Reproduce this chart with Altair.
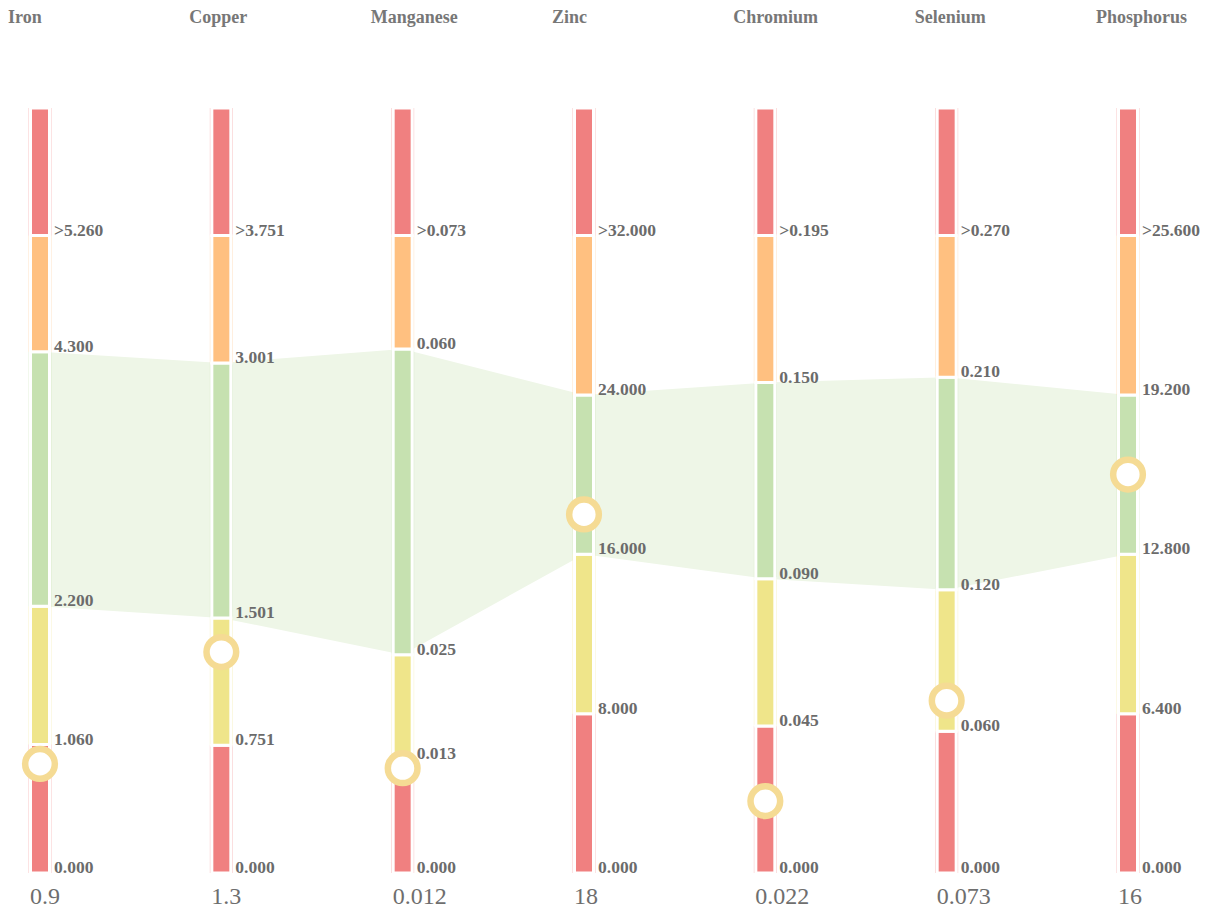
import altair as alt
import pandas as pd

# ---- data ----
elements = ["Iron", "Copper", "Manganese", "Zinc", "Chromium", "Selenium", "Phosphorus"]
t1 = [1.060, 0.751, 0.013, 8.0, 0.045, 0.060, 6.4]
t2 = [2.200, 1.501, 0.025, 16.0, 0.090, 0.120, 12.8]
t3 = [4.300, 3.001, 0.060, 24.0, 0.150, 0.210, 19.2]
t4 = [5.260, 3.751, 0.073, 32.0, 0.195, 0.270, 25.6]
values = [0.9, 1.3, 0.012, 18, 0.022, 0.073, 16]
value_labels = ["0.9", "1.3", "0.012", "18", "0.022", "0.073", "16"]
band_colors = ["#f08080", "#efe58a", "#c6e1b0", "#ffc080", "#f08080"]
headroom = 1.2

# ---- build tables ----
seg_rows, lab_rows, band_rows, pt_rows, col_rows = [], [], [], [], []
for i, el in enumerate(elements):
    top = t4[i] * headroom
    edges = [0.0, t1[i], t2[i], t3[i], t4[i], top]
    for k in range(5):
        seg_rows.append(dict(idx=i, lo=edges[k] / top, hi=edges[k + 1] / top, color=band_colors[k]))
    for k in range(5):
        txt = f"{edges[k]:.3f}"
        if k == 4:
            txt = ">" + txt
        lab_rows.append(dict(idx=i, frac=edges[k] / top, text=txt))
    band_rows.append(dict(idx=i, lo=t2[i] / top, hi=t3[i] / top))
    pt_rows.append(dict(idx=i, frac=values[i] / top))
    col_rows.append(dict(idx=i, element=el, vlabel=value_labels[i]))

seg = pd.DataFrame(seg_rows)
labs = pd.DataFrame(lab_rows)
band = pd.DataFrame(band_rows)
pts = pd.DataFrame(pt_rows)
cols = pd.DataFrame(col_rows)

X = alt.Scale(domain=[0, 6], range=[32, 1120], padding=0, nice=False, zero=False)
Y = alt.Scale(domain=[0, 1], range=[865, 100], padding=0, nice=False)
FONT = "Liberation Serif, Times New Roman, serif"

band_layer = alt.Chart(band).mark_area(color="#eef6e7", opacity=1).encode(
    x=alt.X("idx:Q", scale=X, axis=None),
    y=alt.Y("lo:Q", scale=Y, axis=None),
    y2="hi:Q",
)

outer = alt.Chart(seg).mark_bar(size=23, orient="vertical", opacity=0.45).encode(
    x=alt.X("idx:Q", scale=X, axis=None),
    y=alt.Y("lo:Q", scale=Y, axis=None),
    y2="hi:Q",
    color=alt.Color("color:N", scale=None),
)

inner = alt.Chart(seg).mark_bar(size=19, orient="vertical", stroke="white", strokeWidth=3).encode(
    x=alt.X("idx:Q", scale=X, axis=None),
    y=alt.Y("lo:Q", scale=Y, axis=None),
    y2="hi:Q",
    color=alt.Color("color:N", scale=None),
)

thr_text = alt.Chart(labs).mark_text(
    align="left", baseline="alphabetic", dx=14, dy=0,
    font=FONT, fontSize=17.5, fontWeight="bold", color="#6b6b6b",
).encode(
    x=alt.X("idx:Q", scale=X, axis=None),
    y=alt.Y("frac:Q", scale=Y, axis=None),
    text="text:N",
)

circles = alt.Chart(pts).mark_point(
    shape="circle", size=880, filled=False, fill="white", fillOpacity=1,
    stroke="#f5db94", strokeWidth=6.5, opacity=1,
).encode(
    x=alt.X("idx:Q", scale=X, axis=None),
    y=alt.Y("frac:Q", scale=Y, axis=None),
)

titles = alt.Chart(cols).mark_text(
    align="left", baseline="alphabetic", dx=-32,
    font=FONT, fontSize=18, fontWeight="bold", color="#777777",
).encode(
    x=alt.X("idx:Q", scale=X, axis=None),
    y=alt.value(15),
    text="element:N",
)

bottom = alt.Chart(cols).mark_text(
    align="left", baseline="middle", dx=-10,
    font=FONT, fontSize=24, color="#6e6e6e",
).encode(
    x=alt.X("idx:Q", scale=X, axis=None),
    y=alt.value(889),
    text="vlabel:N",
)

chart = alt.layer(band_layer, outer, inner, thr_text, circles, titles, bottom).properties(
    width=1192, height=906,
    autosize=alt.AutoSizeParams(type="none"),
    padding={"left": 0, "right": 0, "top": 0, "bottom": 0},
).configure(
    background="white",
    view=alt.ViewConfig(stroke=None, strokeWidth=0),
    style={"cell": {"stroke": "transparent", "strokeWidth": 0}},
)

chart.save("out.html", embed_options={"renderer": "svg", "actions": False})
